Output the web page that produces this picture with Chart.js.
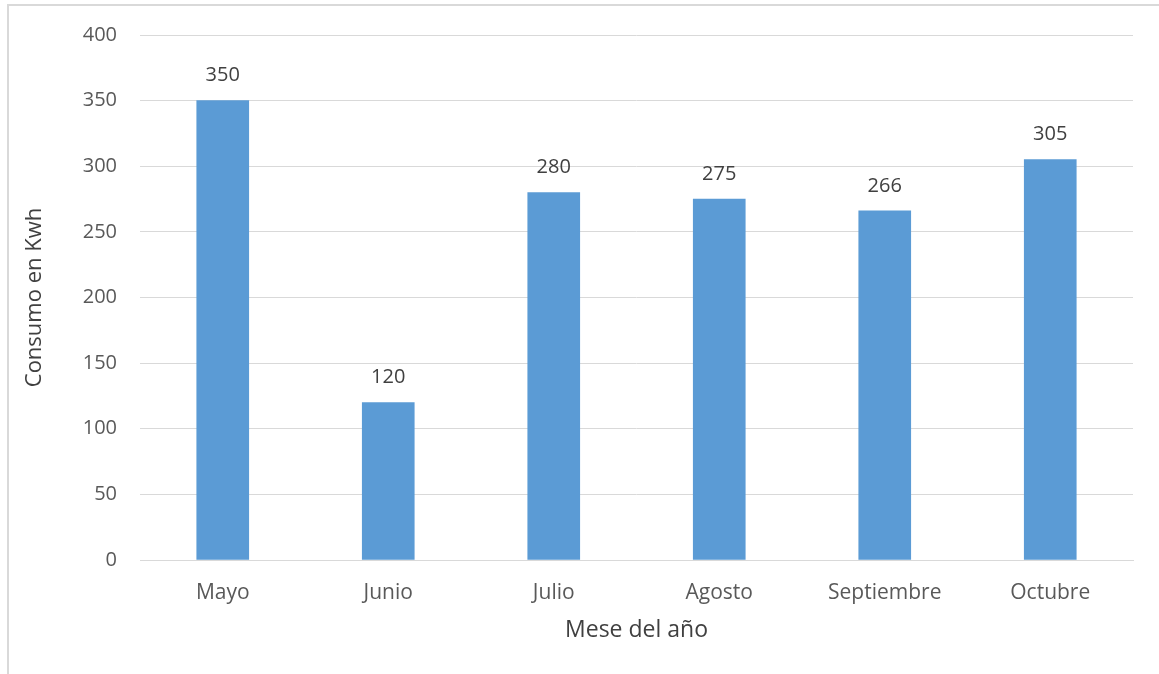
<!DOCTYPE html>
<html>
<head>
<meta charset="utf-8">
<script src="https://cdn.jsdelivr.net/npm/chart.js@4.4.1/dist/chart.umd.min.js"></script>
<style>
    html, body { margin: 0; padding: 0; background: #fff; overflow: hidden; }
    #wrap { position: relative; width: 1159px; height: 674px; }
    #frame {
        position: absolute; left: 7px; top: 4px; right: -10px; bottom: -10px;
        border-left: 2px solid #d9d9d9; border-top: 2px solid #d9d9d9;
    }
    #consumoCanvas { position: absolute; left: 0; top: 0; }
</style>
</head>
<body>
<div id="wrap">
    <div id="frame"></div>
    <canvas id="consumoCanvas" width="1159" height="674"></canvas>
</div>
<script>
const meses = ['Mayo', 'Junio', 'Julio', 'Agosto', 'Septiembre', 'Octubre'];
const consumoKwh = [350, 120, 280, 275, 266, 305];
const yTicks = [0, 50, 100, 150, 200, 250, 300, 350, 400];

const fontFamily = '"Open Sans", "Noto Sans", sans-serif';

// writes each bar's value just above it
const valueLabels = {
    id: 'valueLabels',
    afterDatasetsDraw(chart) {
        let ctx = chart.ctx
        let meta = chart.getDatasetMeta(0)
        ctx.save()
        ctx.font = '20px ' + fontFamily
        ctx.fillStyle = '#404040'
        ctx.textAlign = 'center'
        ctx.textBaseline = 'middle'
        meta.data.forEach((bar, i) => {
            ctx.fillText(consumoKwh[i], bar.x, bar.y - 25)
        })
        ctx.restore()
    }
};

let canvas = document.getElementById('consumoCanvas')
new Chart(canvas, {
    type: 'bar',
    data: {
        labels: meses,
        datasets: [{
            data: consumoKwh,
            backgroundColor: '#5b9bd5',
            borderWidth: 0,
            barThickness: 52
        }]
    },
    options: {
        responsive: false,
        animation: false,
        events: [],
        layout: { padding: { left: 0, right: 26, top: 34, bottom: 0 } },
        plugins: {
            legend: { display: false },
            tooltip: { enabled: false }
        },
        scales: {
            x: {
                grid: { display: false },
                border: { display: true, color: '#d9d9d9', width: 1 },
                ticks: {
                    color: '#595959',
                    font: { family: fontFamily, size: 21 },
                    padding: 12,
                    maxRotation: 0
                },
                title: {
                    display: true,
                    text: 'Mese del año',
                    color: '#404040',
                    font: { family: fontFamily, size: 23 },
                    padding: { top: 0, bottom: 30 }
                },
                afterFit(scale) { scale.height = 114 }
            },
            y: {
                min: 0,
                max: 400,
                afterBuildTicks(scale) {
                    scale.ticks = yTicks.map(v => ({ value: v }))
                },
                grid: { color: '#d9d9d9', lineWidth: 1, drawTicks: false },
                border: { display: false },
                ticks: {
                    color: '#595959',
                    font: { family: fontFamily, size: 20 },
                    padding: 23
                },
                title: {
                    display: true,
                    text: 'Consumo en Kwh',
                    color: '#404040',
                    font: { family: fontFamily, size: 22 },
                    padding: { top: 22, bottom: 0 }
                },
                afterFit(scale) { scale.width = 140 }
            }
        }
    },
    plugins: [valueLabels]
});
</script>
</body>
</html>
